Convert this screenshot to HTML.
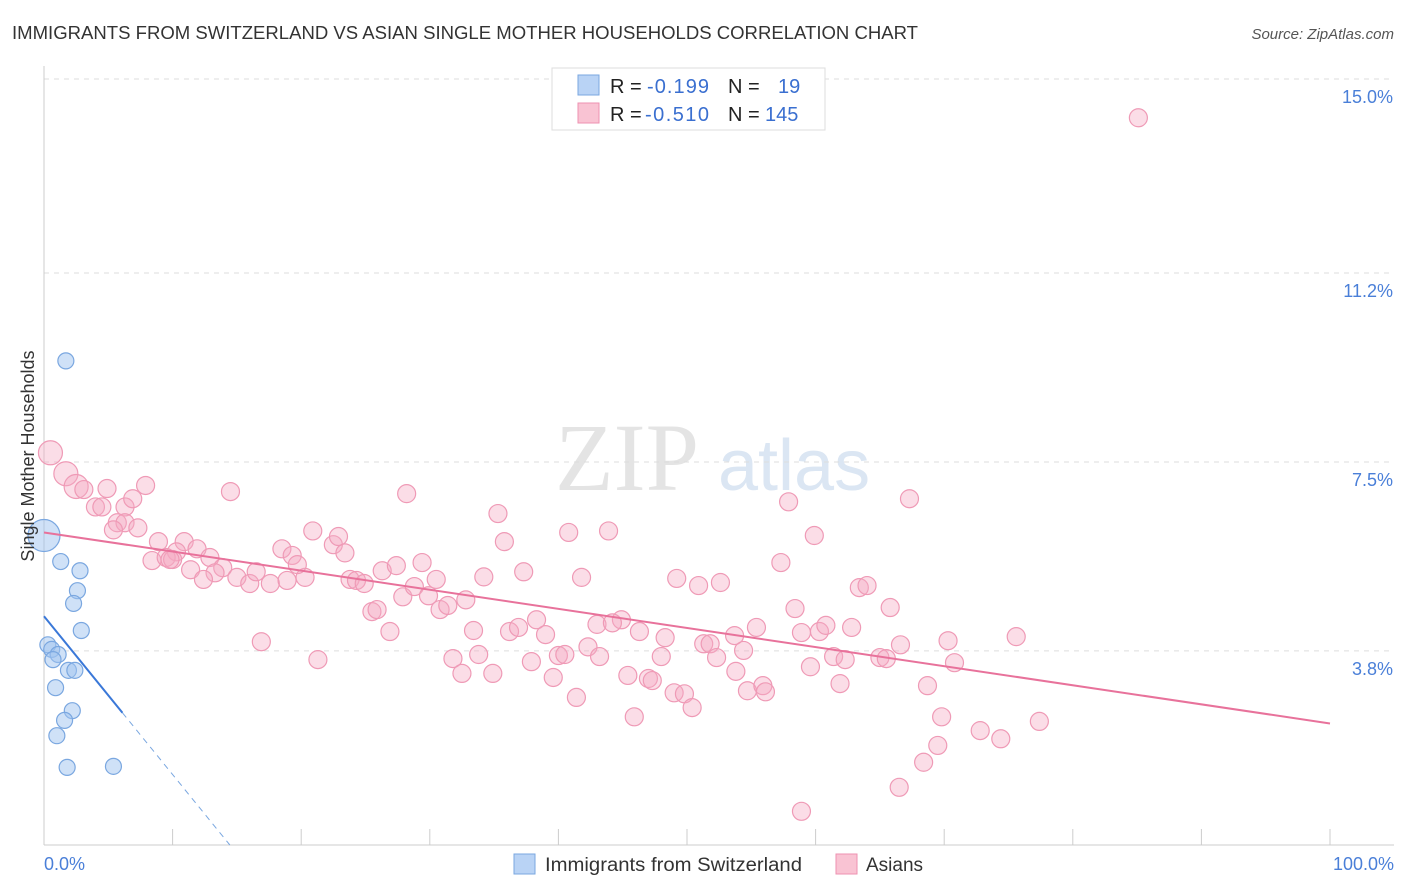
<!DOCTYPE html>
<html><head><meta charset="utf-8"><style>
body{margin:0;background:#fff;font-family:"Liberation Sans",sans-serif;}
svg{display:block}
</style></head><body>
<svg id="chart" width="1406" height="892" viewBox="0 0 1406 892" xmlns="http://www.w3.org/2000/svg">
<text x="12" y="39" font-size="18" fill="#333" textLength="906" lengthAdjust="spacingAndGlyphs">IMMIGRANTS FROM SWITZERLAND VS ASIAN SINGLE MOTHER HOUSEHOLDS CORRELATION CHART</text>
<text x="1394" y="39" font-size="15" fill="#555" text-anchor="end" font-style="italic">Source: ZipAtlas.com</text>
<g>
<text x="555" y="490" font-size="96" fill="#e4e4e4" font-family="Liberation Serif,serif">ZIP</text>
<text x="718" y="490" font-size="72" fill="#dbe6f3">atlas</text>
</g>
<g id="grid"></g>
<g id="axes"></g>
<g id="marks"></g>
<text transform="translate(34,456) rotate(-90)" font-size="18" fill="#333" text-anchor="middle">Single Mother Households</text>
<g>
<rect x="552" y="68" width="273" height="62" fill="#fff" stroke="#ddd"/>
<rect x="578" y="75" width="21" height="20" fill="#b9d3f5" stroke="#7aa7e0"/>
<rect x="578" y="103" width="21" height="20" fill="#f9c3d3" stroke="#ee92b0"/>
<text x="610" y="93" font-size="20" fill="#222">R = <tspan x="647" fill="#3a6fd0" textLength="62">-0.199</tspan><tspan x="728">N = </tspan><tspan x="778" fill="#3a6fd0">19</tspan></text>
<text x="610" y="121" font-size="20" fill="#222">R = <tspan x="645" fill="#3a6fd0" textLength="64">-0.510</tspan><tspan x="728">N = </tspan><tspan x="765" fill="#3a6fd0">145</tspan></text>
</g>
<g>
<rect x="514" y="854" width="21" height="20" fill="#b9d3f5" stroke="#7aa7e0"/>
<text x="545" y="871" font-size="19" fill="#333" textLength="257" lengthAdjust="spacingAndGlyphs">Immigrants from Switzerland</text>
<rect x="836" y="854" width="21" height="20" fill="#f9c3d3" stroke="#ee92b0"/>
<text x="866" y="871" font-size="19" fill="#333">Asians</text>
</g>
</svg>
<script>
const yTicks=[15.0,11.2,7.5,3.8];
const yTickLabels=["15.0%","11.2%","7.5%","3.8%"];
const xTickLabels=["0.0%","100.0%"];
const swissX=[1.7,0,1.3,2.8,2.6,2.3,2.9,0.3,0.6,1.1,0.7,1.9,2.4,0.9,2.2,1.6,1.0,1.8,5.4];
const swissY=[9.48,6.06,5.55,5.37,4.98,4.73,4.20,3.92,3.83,3.73,3.63,3.42,3.42,3.08,2.63,2.44,2.14,1.52,1.54];
const asianX=[85.1,0.5,1.7,2.5,3.1,4.9,7.9,14.5,28.2,4.0,6.3,6.9,5.7,6.3,7.3,5.4,8.9,10.9,10.3,11.9,8.4,9.5,10.0,12.9,13.9,11.4,13.3,12.4,15.0,16.0,16.5,17.6,18.9,20.3,18.5,19.3,19.7,20.9,22.5,22.9,23.4,23.8,24.3,24.9,25.5,25.9,26.9,26.3,27.4,27.9,28.8,29.4,29.9,30.5,30.8,31.4,32.8,34.2,35.3,35.8,37.3,40.8,41.8,43.9,33.4,31.8,32.5,33.8,34.9,36.2,36.9,38.3,39.0,37.9,39.6,40.0,40.5,41.4,42.3,43.2,43.0,44.9,44.2,45.4,46.3,45.9,47.0,47.3,48.0,48.3,49.2,50.9,52.6,49.0,49.8,50.4,51.3,51.8,52.3,53.7,53.8,54.4,54.7,55.9,56.1,55.4,57.3,57.9,58.4,59.6,58.9,59.9,60.3,60.8,61.4,62.3,61.9,62.8,63.4,64.0,65.0,65.5,65.8,66.6,67.3,68.7,69.8,70.3,70.8,69.5,68.4,72.8,74.4,75.6,77.4,66.5,58.9,16.9,21.3,9.8,4.5];
const asianY=[14.24,7.68,7.27,7.02,6.96,6.98,7.04,6.92,6.88,6.62,6.62,6.78,6.31,6.31,6.21,6.17,5.94,5.94,5.74,5.80,5.57,5.63,5.59,5.63,5.43,5.39,5.33,5.20,5.24,5.12,5.35,5.12,5.18,5.24,5.80,5.67,5.49,6.15,5.88,6.04,5.72,5.20,5.18,5.12,4.57,4.61,4.18,5.37,5.47,4.86,5.06,5.53,4.88,5.20,4.61,4.69,4.80,5.25,6.49,5.94,5.35,6.12,5.24,6.15,4.20,3.65,3.36,3.73,3.36,4.18,4.26,4.41,4.12,3.59,3.28,3.71,3.73,2.89,3.88,3.69,4.32,4.41,4.35,3.32,4.18,2.51,3.26,3.22,3.69,4.06,5.22,5.08,5.14,2.98,2.96,2.69,3.94,3.94,3.67,4.10,3.40,3.81,3.02,3.12,3.00,4.26,5.53,6.72,4.63,3.49,4.16,6.06,4.18,4.30,3.69,3.63,3.16,4.26,5.04,5.08,3.67,3.65,4.65,3.92,6.78,3.12,2.51,4.00,3.57,1.95,1.62,2.24,2.08,4.08,2.42,1.13,0.66,3.98,3.63,5.59,6.62];
const swissTrend=[4.48,-0.31];
const asianTrend=[6.12,-0.0374];
const NS="http://www.w3.org/2000/svg";
const X=v=>44+v*12.86, Y=v=>845-v*51.07;
function mk(tag,attrs,parent){const e=document.createElementNS(NS,tag);for(const k in attrs)e.setAttribute(k,attrs[k]);document.getElementById(parent).appendChild(e);return e;}
yTicks.forEach((t,i)=>{
 const l=mk('line',{x1:44,x2:1394,y1:Y(t),y2:Y(t),stroke:'#ddd','stroke-dasharray':'5,5'},'grid');
 
 
 const tx=mk('text',{x:1393,y:Y(t)+24,'font-size':18,fill:'#4a7fd8','text-anchor':'end'},'axes');
 tx.textContent=yTickLabels[i];
 
 
});
let ax=mk('line',{x1:44,x2:44,y1:66,y2:845,stroke:'#ccc'},'axes');


ax=mk('line',{x1:44,x2:1394,y1:845,y2:845,stroke:'#ccc'},'axes');


for(let i=0;i<=10;i++){const t=mk('line',{x1:X(i*10),x2:X(i*10),y1:829,y2:845,stroke:'#ccc'},'axes');
 
 }
[[0,44,'start'],[100,1394,'end']].forEach((d,i)=>{const t=mk('text',{x:d[1],y:870,'font-size':18,fill:'#4a7fd8','text-anchor':d[2]},'axes');t.textContent=xTickLabels[i];
 
 });
asianX.forEach((x,i)=>{const c=mk('circle',{cx:X(x),cy:Y(asianY[i]),r:x<3?12:9,fill:'rgba(246,170,195,0.4)',stroke:'#ef9ab6','stroke-width':1.2},'marks');
 
 });
swissX.forEach((x,i)=>{const c=mk('circle',{cx:X(x),cy:Y(swissY[i]),r:x<0.2?16:8,fill:'rgba(160,195,240,0.5)',stroke:'#7aa7e0','stroke-width':1.2},'marks');
 
 });
let tl=mk('line',{x1:X(0),y1:Y(asianTrend[0]),x2:X(100),y2:Y(asianTrend[0]+asianTrend[1]*100),stroke:'#e8729b','stroke-width':2},'marks');


const sx1=6.1, sx2=-swissTrend[0]/swissTrend[1];
tl=mk('line',{x1:X(0),y1:Y(swissTrend[0]),x2:X(sx1),y2:Y(swissTrend[0]+swissTrend[1]*sx1),stroke:'#3a78d8','stroke-width':2},'marks');


tl=mk('line',{x1:X(sx1),y1:Y(swissTrend[0]+swissTrend[1]*sx1),x2:X(sx2),y2:Y(0),stroke:'#7aa7e0','stroke-width':1,'stroke-dasharray':'6,5'},'marks');


</script>
</body></html>
